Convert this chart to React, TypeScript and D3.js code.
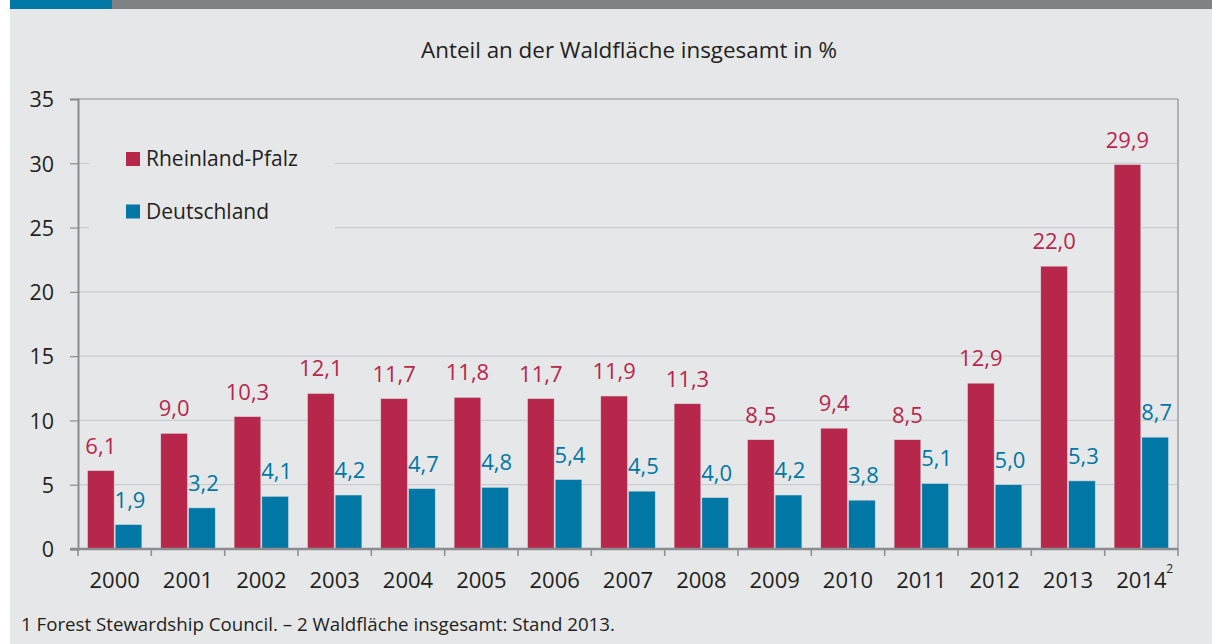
import { useEffect, useRef } from 'react';
import * as d3 from 'd3';

const years = ['2000', '2001', '2002', '2003', '2004', '2005', '2006', '2007', '2008', '2009', '2010', '2011', '2012', '2013', '2014'];
const rheinlandPfalz = [6.1, 9.0, 10.3, 12.1, 11.7, 11.8, 11.7, 11.9, 11.3, 8.5, 9.4, 8.5, 12.9, 22.0, 29.9];
const deutschland = [1.9, 3.2, 4.1, 4.2, 4.7, 4.8, 5.4, 4.5, 4.0, 4.2, 3.8, 5.1, 5.0, 5.3, 8.7];
const yTicks = [0, 5, 10, 15, 20, 25, 30, 35];

const RED = '#b7264b';
const BLUE = '#0077a4';
const BG = '#e6e7e9';
const AXIS = '#8b8c90';
const GRID = '#cbccd0';
const TEXT = '#231f20';
const FONT = '"Open Sans", "Noto Sans", sans-serif';

const W = 1212;
const H = 644;
const M = { left: 78, right: 1178, top: 99, bottom: 549 };

export default function App() {
  const svgRef = useRef<SVGSVGElement>(null);

  useEffect(() => {
    if (!svgRef.current) return;
    const svg = d3.select(svgRef.current);
    svg.selectAll('*').remove();

    // panel + top strip
    svg.append('rect').attr('x', 10).attr('y', 0).attr('width', W - 10).attr('height', H).attr('fill', BG);
    svg.append('rect').attr('x', 10).attr('y', 0).attr('width', W - 10).attr('height', 9).attr('fill', '#808185');
    svg.append('rect').attr('x', 10).attr('y', 0).attr('width', 102).attr('height', 9).attr('fill', '#0078a6');

    const x = d3.scaleBand<string>().domain(years).range([M.left, M.right]).paddingInner(0).paddingOuter(0);
    const x1 = d3.scaleBand<string>().domain(['rp', 'de']).range([0, x.bandwidth()]).paddingOuter(0.34).paddingInner(0.036);
    const y = d3.scaleLinear().domain([0, 35]).range([M.bottom, M.top]);

    // title
    svg.append('text').attr('x', 629).attr('y', 58).attr('text-anchor', 'middle')
      .attr('font-family', FONT).attr('font-size', 22.4).attr('fill', TEXT)
      .text('Anteil an der Waldfläche insgesamt in %');

    // grid
    const gridG = svg.append('g');
    yTicks.filter(t => t > 0 && t < 35).forEach(t => {
      gridG.append('line').attr('x1', M.left).attr('x2', M.right).attr('y1', y(t)).attr('y2', y(t))
        .attr('stroke', GRID).attr('stroke-width', 1.2);
    });

    // legend (covers grid)
    const leg = svg.append('g');
    leg.append('rect').attr('x', 89).attr('y', 140).attr('width', 246).attr('height', 90).attr('fill', BG);
    [{ label: 'Rheinland-Pfalz', color: RED, yy: 152 }, { label: 'Deutschland', color: BLUE, yy: 204.5 }].forEach(d => {
      leg.append('rect').attr('x', 126).attr('y', d.yy).attr('width', 14).attr('height', 14).attr('fill', d.color);
      leg.append('text').attr('x', 146).attr('y', d.yy + 14).attr('font-family', FONT).attr('font-size', 21)
        .attr('fill', TEXT).text(d.label);
    });

    // bars
    const series = [
      { key: 'rp', values: rheinlandPfalz, color: RED },
      { key: 'de', values: deutschland, color: BLUE },
    ];
    const fmt = (v: number) => v.toFixed(1).replace('.', ',');
    series.forEach(s => {
      const g = svg.append('g');
      g.selectAll('rect').data(s.values).enter().append('rect')
        .attr('x', (_, i) => (x(years[i]) ?? 0) + (x1(s.key) ?? 0))
        .attr('y', d => y(d))
        .attr('width', x1.bandwidth())
        .attr('height', d => y(0) - y(d))
        .attr('fill', s.color)
        .attr('stroke', '#d9dade').attr('stroke-width', 0.6);
      g.selectAll('text').data(s.values).enter().append('text')
        .attr('x', (_, i) => (x(years[i]) ?? 0) + (x1(s.key) ?? 0) + x1.bandwidth() / 2 + (s.key === 'de' ? 1.5 : 0))
        .attr('y', d => y(d) - 17)
        .attr('text-anchor', 'middle')
        .attr('font-family', FONT).attr('font-size', 22)
        .attr('fill', s.color)
        .text(d => fmt(d));
    });

    // frame
    svg.append('line').attr('x1', M.left).attr('x2', M.right).attr('y1', M.top).attr('y2', M.top)
      .attr('stroke', AXIS).attr('stroke-width', 1.2);
    svg.append('line').attr('x1', M.right).attr('x2', M.right).attr('y1', M.top).attr('y2', M.bottom)
      .attr('stroke', AXIS).attr('stroke-width', 1.2);

    // y axis
    const yAxis = svg.append('g').attr('transform', `translate(${M.left},0)`)
      .call(d3.axisLeft(y).tickValues(yTicks).tickSize(8).tickPadding(16).tickFormat(d => String(d)));
    yAxis.select('.domain').attr('stroke', AXIS).attr('stroke-width', 2);
    yAxis.selectAll('.tick line').attr('stroke', AXIS).attr('stroke-width', 1.2);
    yAxis.selectAll('.tick text').attr('font-family', FONT).attr('font-size', 21.5).attr('fill', TEXT).attr('dy', '0.36em');

    // x axis
    const xAxis = svg.append('g').attr('transform', `translate(0,${M.bottom})`);
    xAxis.append('line').attr('x1', M.left - 8).attr('x2', M.right).attr('y1', 0).attr('y2', 0)
      .attr('stroke', AXIS).attr('stroke-width', 2.5);
    const bounds = years.map(yr => x(yr) ?? 0).concat([M.right]);
    xAxis.selectAll('line.tk').data(bounds).enter().append('line').attr('class', 'tk')
      .attr('x1', d => d).attr('x2', d => d).attr('y1', 0).attr('y2', 7)
      .attr('stroke', AXIS).attr('stroke-width', 1.5);
    xAxis.selectAll('text.lbl').data(years).enter().append('text').attr('class', 'lbl')
      .attr('x', d => (x(d) ?? 0) + x.bandwidth() / 2)
      .attr('y', 38.5)
      .attr('text-anchor', 'middle')
      .attr('font-family', FONT).attr('font-size', 22).attr('fill', TEXT)
      .text(d => d);
    // superscript footnote marker on 2014
    xAxis.append('text').attr('x', (x('2014') ?? 0) + x.bandwidth() / 2 + 25).attr('y', 24)
      .attr('font-family', FONT).attr('font-size', 12).attr('fill', TEXT).text('2');

    // footnote
    svg.append('text').attr('x', 21).attr('y', 631)
      .attr('font-family', FONT).attr('font-size', 18.7).attr('fill', TEXT)
      .text('1 Forest Stewardship Council. – 2 Waldfläche insgesamt: Stand 2013.');
  }, []);

  return <svg ref={svgRef} width={W} height={H} style={{ display: 'block', position: 'absolute', left: 0, top: 0 }} />;
}
